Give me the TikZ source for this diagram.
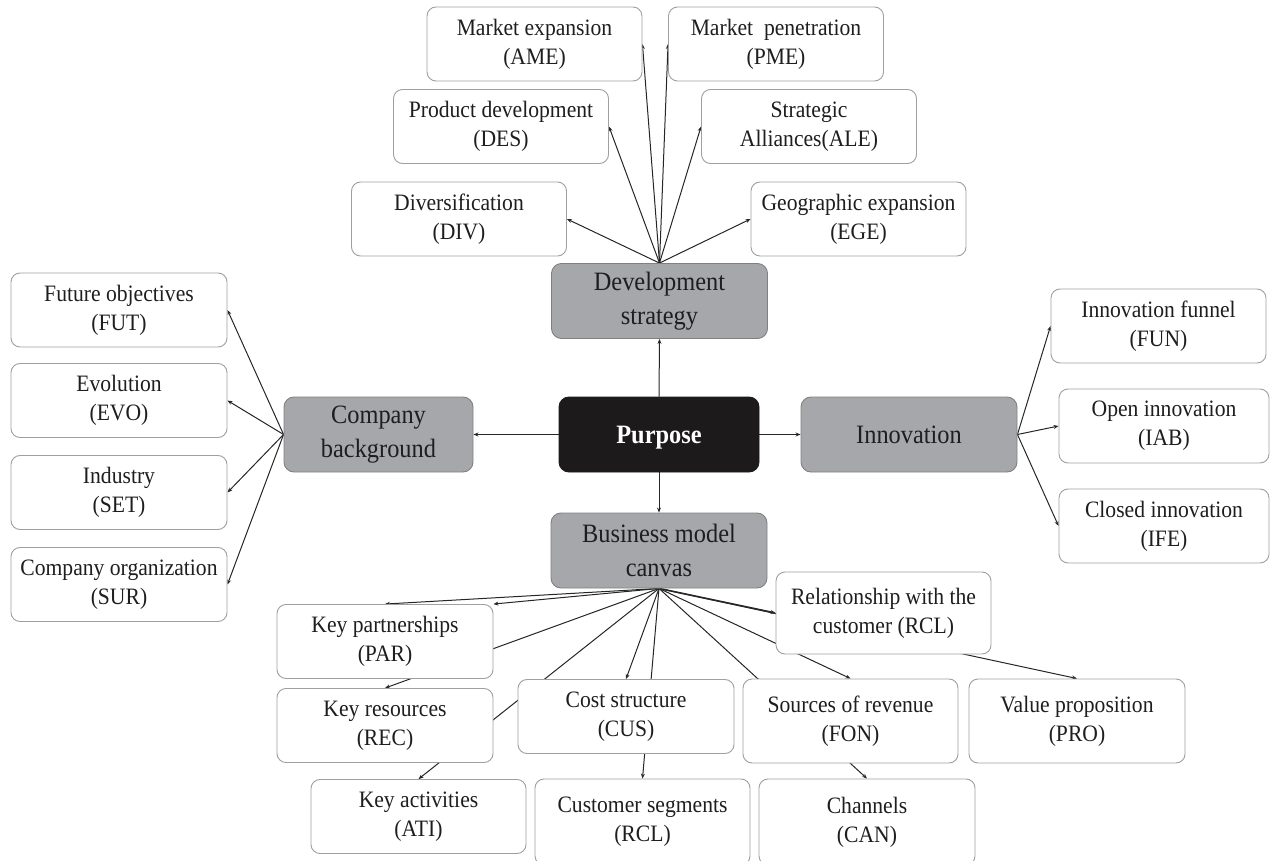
\documentclass[tikz,border=0pt]{standalone}
\usepackage{fontspec}
\setmainfont[FakeStretch=0.92]{Liberation Serif}
\usetikzlibrary{arrows.meta,backgrounds}

\definecolor{boxline}{HTML}{A0A0A0}
\definecolor{hubfill}{HTML}{A6A7AA}
\definecolor{hubline}{HTML}{808080}
\definecolor{corefill}{HTML}{1C1A1B}
\definecolor{wirecol}{HTML}{262626}
\definecolor{inkcol}{HTML}{1E1E1E}

\begin{document}
\begin{tikzpicture}[x=1pt,y=-1pt,
  leaf/.style={draw=boxline, line width=0.9pt, fill=white, rounded corners=9pt,
    minimum width=215pt, minimum height=74pt, align=center, inner sep=2pt,
    text=inkcol, font=\fontsize{23.5}{29}\selectfont,
    execute at begin node={\rule{0pt}{22pt}}},
  hub/.style={draw=hubline, line width=0.9pt, fill=hubfill, rounded corners=10pt,
    minimum width=216pt, minimum height=75pt, align=center, inner sep=2pt,
    text=inkcol, font=\fontsize{26.5}{34}\selectfont},
  twoline/.style={execute at begin node={\rule{0pt}{24.5pt}}},
  core/.style={hub, fill=corefill, draw=corefill, text=white, text depth=0pt,
    font=\fontsize{26.5}{34}\selectfont\bfseries},
  link/.style={draw=wirecol, line width=1pt, -{Stealth[length=5pt,width=4pt]}}
]
\useasboundingbox (0,0) rectangle (1270,861);

% central hub and the four themes
\node[core, minimum width=200pt] (purpose) at (659,434.5) {Purpose};
\node[hub, twoline] (ds)  at (659.5,301) {Development\\strategy};
\node[hub, twoline, minimum width=189pt] (cb) at (378.5,434.5) {Company\\background};
\node[hub] (inn) at (909,434.5) {Innovation};
\node[hub, twoline] (bmc) at (659,550.5) {Business model\\canvas};

% development strategy
\node[leaf] (ame) at (534.5,44)   {Market expansion\\(AME)};
\node[leaf] (pme) at (776,44)     {Market~ penetration\\(PME)};
\node[leaf] (des) at (501,126.5)  {Product development\\(DES)};
\node[leaf] (ale) at (809,126.5)  {Strategic\\Alliances(ALE)};
\node[leaf] (div) at (459,219)    {Diversification\\(DIV)};
\node[leaf] (ege) at (858.5,219)  {Geographic expansion\\(EGE)};

% company background
\node[leaf, minimum width=216pt] (fut) at (119,310)   {Future objectives\\(FUT)};
\node[leaf, minimum width=216pt] (evo) at (119,400.5) {Evolution\\(EVO)};
\node[leaf, minimum width=216pt] (set) at (119,492.5) {Industry\\(SET)};
\node[leaf, minimum width=216pt] (sur) at (119,584.5) {Company organization\\(SUR)};

% innovation
\node[leaf] (fun) at (1158.5,326) {Innovation funnel\\(FUN)};
\node[leaf, minimum width=210pt] (iab) at (1164,426) {Open innovation\\(IAB)};
\node[leaf, minimum width=210pt] (ife) at (1164,526) {Closed innovation\\(IFE)};

% business model canvas
\node[leaf, minimum height=82pt] (rcl) at (883.5,613) {Relationship with the\\customer (RCL)};
\node[leaf, minimum width=216pt] (par) at (385,641.5) {Key partnerships\\(PAR)};
\node[leaf, minimum width=216pt] (rec) at (385,725.5) {Key resources\\(REC)};
\node[leaf, minimum width=216pt] (cus) at (626,716.5) {Cost structure\\(CUS)};
\node[leaf, minimum height=84pt] (fon) at (850.5,721) {Sources of revenue\\(FON)};
\node[leaf, minimum width=216pt, minimum height=84pt] (pro) at (1077,721) {Value proposition\\(PRO)};
\node[leaf] (ati) at (418.5,816.5) {Key activities\\(ATI)};
\node[leaf, minimum height=86pt] (cseg) at (642.5,822) {Customer segments\\(RCL)};
\node[leaf, minimum width=216pt, minimum height=86pt] (can) at (867,822) {Channels\\(CAN)};

\begin{scope}[on background layer]
  % purpose to themes
  \draw[link] (purpose.north) -- (ds.south);
  \draw[link] (purpose.south) -- (bmc.north);
  \draw[link] (purpose.west)  -- (cb.east);
  \draw[link] (purpose.east)  -- (inn.west);

  % development strategy fan
  \draw[link] (ds.north) -- (ame.east);
  \draw[link] (ds.north) -- (pme.west);
  \draw[link] (ds.north) -- (des.east);
  \draw[link] (ds.north) -- (ale.west);
  \draw[link] (ds.north) -- (div.east);
  \draw[link] (ds.north) -- (ege.west);

  % company background fan
  \draw[link] (cb.west) -- (fut.east);
  \draw[link] (cb.west) -- (evo.east);
  \draw[link] (cb.west) -- (set.east);
  \draw[link] (cb.west) -- (sur.east);

  % innovation fan
  \draw[link] (inn.east) -- (fun.west);
  \draw[link] (inn.east) -- (iab.west);
  \draw[link] (inn.east) -- (ife.west);

  % business model canvas fan
  \draw[link] (bmc.south) -- (par.north);
  \draw[link] (bmc.south) -- (par.north east);
  \draw[link] (bmc.south) -- (rec.north);
  \draw[link] (bmc.south) -- (ati.north);
  \draw[link] (bmc.south) -- (cus.north);
  \draw[link] (bmc.south) -- (cseg.north);
  \draw[link] (bmc.south) -- (can.north);
  \draw[link] (bmc.south) -- (fon.north);
  \draw[link, line width=1.6pt] (bmc.south) -- (rcl.west);
  \draw[link] (bmc.south) -- (pro.north);
\end{scope}
\end{tikzpicture}
\end{document}
